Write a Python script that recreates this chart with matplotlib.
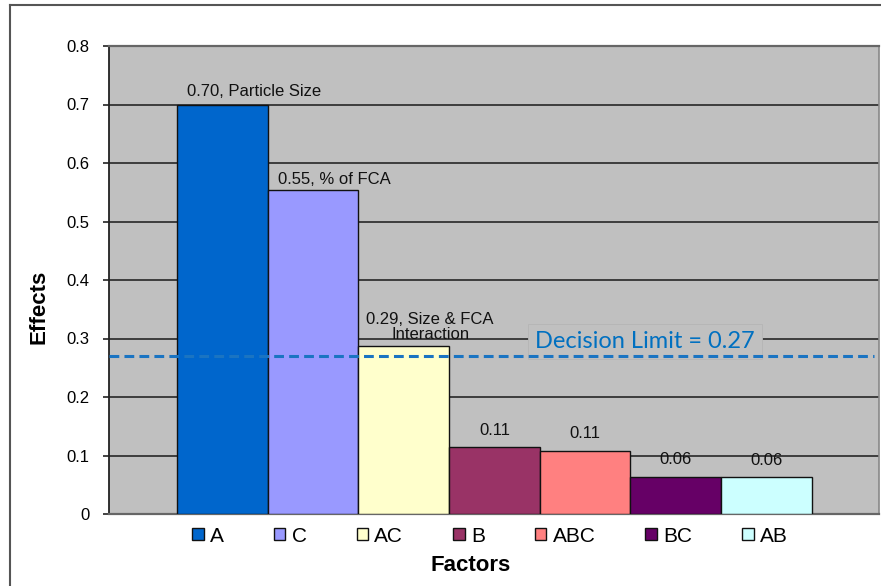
import matplotlib
matplotlib.use("Agg")
import matplotlib.pyplot as plt
from matplotlib.patches import Patch
from matplotlib.lines import Line2D

# effects of each factor, sorted from largest to smallest
factores = ["A", "C", "AC", "B", "ABC", "BC", "AB"]
efectos = [0.70, 0.553, 0.288, 0.114, 0.108, 0.064, 0.063]
nombres = ["Particle Size", "% of FCA", "Size & FCA\nInteraction", "", "", "", ""]
colores = ["#0066CC", "#9999FF", "#FFFFCC", "#993366", "#FF8080", "#660066", "#CCFFFF"]
limite = 0.27
yticks = [0, 0.1, 0.2, 0.3, 0.4, 0.5, 0.6, 0.7, 0.8]

# label offsets above each bar (points)
dx = [23, 15, 19, 0, 0, 0, 0]
dy = [6, 5, 5, 9, 9, 9, 9]

plt.rcParams['font.family'] = ['Liberation Sans', 'DejaVu Sans']

fig = plt.figure(figsize=(8.81, 5.86), dpi=100)
ax = fig.add_axes([109/881, 1-514/586, (879-109)/881, (514-46)/586])
ax.set_facecolor("#C0C0C0")

for i in range(len(factores)):
    ax.bar(i, efectos[i], width=1.0, color=colores[i], edgecolor="#111111",
           linewidth=1.0, zorder=3, label=factores[i])
    texto = "%.2f" % efectos[i]
    if nombres[i]:
        texto = texto + ", " + nombres[i]
    ax.annotate(texto, xy=(i, efectos[i]), xytext=(dx[i], dy[i]),
                textcoords="offset points", ha="center", va="baseline",
                fontsize=12, color="#111111", linespacing=1.0, zorder=5)

ax.set_xlim(-1.25, 7.24)
ax.set_ylim(0, 0.8)
ax.set_yticks(yticks)
ax.set_yticklabels([("%g" % v) for v in yticks], fontsize=12)
ax.tick_params(axis="y", length=4, width=1.2, pad=10, color="#222222")
ax.set_xticks([])
ax.yaxis.grid(True, color="#1a1a1a", linewidth=1.1, zorder=1)
ax.set_axisbelow(True)

ax.spines["left"].set_color("#222222")
ax.spines["left"].set_linewidth(1.3)
ax.spines["bottom"].set_color("#666666")
ax.spines["bottom"].set_linewidth(1.6)
ax.spines["top"].set_color("#666666")
ax.spines["top"].set_linewidth(1.6)
ax.spines["right"].set_color("#888888")
ax.spines["right"].set_linewidth(1.2)

# decision limit line with its text box
ax.axhline(limite, xmin=0, xmax=0.994, color="#1A74C2", linewidth=2.2,
           linestyle=(0, (3.2, 1.7)), zorder=6)
ax.annotate("Decision Limit = %.2f" % limite, xy=(3.45, limite), xytext=(0, 6),
            textcoords="offset points", ha="left", va="baseline",
            fontsize=17, color="#0070C0", family=["Lato", "DejaVu Sans"], zorder=5,
            bbox=dict(boxstyle="square,pad=0.3", fc="#C0C0C0", ec="#B5B5B5", lw=0.6))

# legend with square markers
handles = [Patch(facecolor=colores[i], edgecolor="#111111", linewidth=1.0)
           for i in range(len(factores))]
fig.legend(handles, factores, loc="center", bbox_to_anchor=(490/881, 1-536/586),
           ncol=7, frameon=False, fontsize=15, handlelength=0.55, handleheight=0.55,
           handletextpad=0.3, columnspacing=2.4, borderpad=0)

fig.text(471/881, 1-571/586, "Factors", ha="center", va="baseline",
         fontsize=16, fontweight="bold")
fig.text(39/881, 1-307/586, "Effects", ha="center", va="center", rotation=90,
         fontsize=16, fontweight="bold")

# outer chart border (left and top)
fig.add_artist(Line2D([10/881, 10/881], [0, 1-4.5/586], color="#555555", linewidth=1.5))
fig.add_artist(Line2D([10/881, 1], [1-4.5/586, 1-4.5/586], color="#555555", linewidth=1.5))

fig.savefig("out.png", dpi=100)
